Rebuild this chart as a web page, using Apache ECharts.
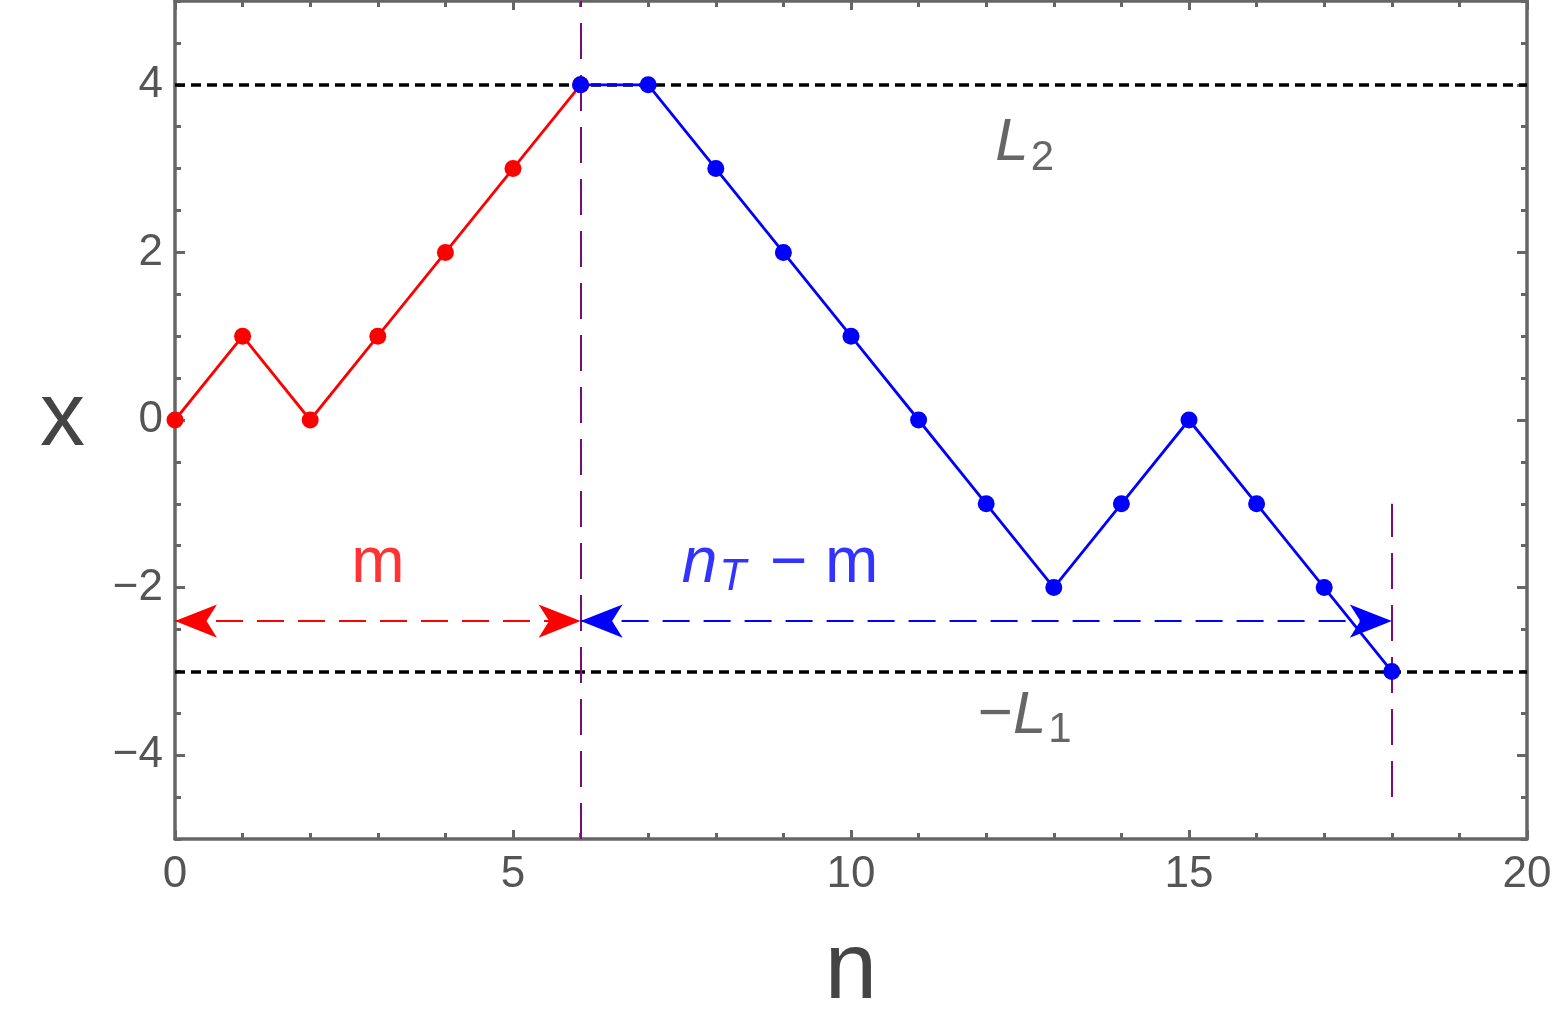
<!DOCTYPE html>
<html><head><meta charset="utf-8">
<script src="https://cdn.jsdelivr.net/npm/echarts@6/dist/echarts.min.js"></script>
<style>html,body{margin:0;padding:0;background:#fff}#c{width:1556px;height:1016px}</style>
</head><body><div id="c"></div>
<script>
// ---- data ----
const redN = [0, 1, 2, 3, 4, 5, 6];
const redX = [0, 1, 0, 1, 2, 3, 4];
const blueN = [6, 7, 8, 9, 10, 11, 12, 13, 14, 15, 16, 17, 18];
const blueX = [4, 4, 3, 2, 1, 0, -1, -2, -1, 0, -1, -2, -3];
const upperBoundary = 4;    // L2
const lowerBoundary = -3;   // -L1
const mStep = 6;            // m
const nTStep = 18;          // n_T
const arrowLevel = -2.4;
const nT_lineTop = -1;
const nT_lineBottom = -4.5;
const xTickLabels = [0, 5, 10, 15, 20];
const yTickLabels = [-4, -2, 0, 2, 4];
// annotations in data coordinates
const notes = [
  { key: 'L2', n: 12.57, x: 3.3 },
  { key: 'L1', n: 12.57, x: -3.53 },
  { key: 'm', n: 3.0, x: -1.72 },
  { key: 'nTm', n: 8.95, x: -1.72 }
];

const FONT = "'Liberation Sans', Arial, sans-serif";
const AX = '#666';
const LAB = '#555';
const RED = '#ff0000', BLUE = '#0000ff', PURPLE = '#7d0a7d';

const chart = echarts.init(document.getElementById('c'));

function xAx(pos, labels) {
  return {
    type: 'value', position: pos, min: 0, max: 20, interval: 5,
    axisLine: { show: true, onZero: false, lineStyle: { color: AX, width: 3.5 } },
    axisTick: { show: true, inside: true, length: 9, lineStyle: { color: AX, width: 3 } },
    minorTick: { show: true, splitNumber: 5, length: 6, lineStyle: { color: AX, width: 3 } },
    axisLabel: { show: labels, fontSize: 44, color: LAB, fontFamily: FONT, margin: 14 },
    splitLine: { show: false }, minorSplitLine: { show: false }
  };
}
function yMinor(pos) {
  return {
    type: 'value', position: pos, min: -5, max: 5, interval: 0.5,
    axisLine: { show: true, onZero: false, lineStyle: { color: AX, width: 3.5 } },
    axisTick: { show: true, inside: true, length: 6, lineStyle: { color: AX, width: 3 } },
    axisLabel: { show: false }, splitLine: { show: false }
  };
}
function yMajor(pos, labels) {
  return {
    type: 'value', position: pos, min: -5, max: 5, interval: 1,
    axisLine: { show: false, onZero: false },
    axisTick: { show: true, inside: true, length: 10, customValues: yTickLabels, lineStyle: { color: AX, width: 3 } },
    axisLabel: { show: labels, customValues: yTickLabels, fontSize: 44, color: LAB, fontFamily: FONT, margin: 12,
      formatter: v => (v < 0 ? '\u2212' + Math.abs(v) : String(v)) },
    splitLine: { show: false }
  };
}

const xA0 = xAx('bottom', true);
xA0.name = 'n'; xA0.nameLocation = 'middle'; xA0.nameGap = 86;
xA0.nameTextStyle = { fontSize: 94, color: '#444', fontFamily: FONT };
const yA1 = yMajor('left', true);
yA1.name = 'x'; yA1.nameLocation = 'middle'; yA1.nameRotate = 0; yA1.nameGap = 90;
yA1.nameTextStyle = { fontSize: 90, color: '#444', fontFamily: FONT };

const richCommon = {
  it: { fontFamily: FONT, fontStyle: 'italic', fontSize: 60, color: '#404040', lineHeight: 70 },
  rg: { fontFamily: FONT, fontSize: 60, color: '#404040', lineHeight: 70 },
  sub: { fontFamily: FONT, fontSize: 42, color: '#404040', lineHeight: 70, padding: [30, 0, 0, 2] },
  bit: { fontFamily: FONT, fontStyle: 'italic', fontSize: 64, color: BLUE, lineHeight: 70 },
  bsub: { fontFamily: FONT, fontStyle: 'italic', fontSize: 44, color: BLUE, lineHeight: 70, padding: [28, 6, 0, 2] },
  brg: { fontFamily: FONT, fontSize: 64, color: BLUE, lineHeight: 70 },
  rrg: { fontFamily: FONT, fontSize: 64, color: RED, lineHeight: 70 }
};
const noteText = {
  L2: '{it|L}{sub|2}',
  L1: '{rg|\u2212}{it|L}{sub|1}',
  m: '{rrg|m}',
  nTm: '{bit|n}{bsub|T}{brg| \u2212 m}'
};

const option = {
  animation: false,
  backgroundColor: '#fff',
  grid: { left: 175, right: 29, top: 1, bottom: 177, containLabel: false, outerBoundsMode: 'none' },
  xAxis: [xA0, xAx('top', false)],
  yAxis: [yMinor('left'), yA1, yMinor('right'), yMajor('right', false)],
  series: [
    {
      type: 'line', xAxisIndex: 0, yAxisIndex: 0, z: 2,
      data: [], silent: true,
      markLine: {
        silent: true, symbol: 'none', animation: false,
        label: { show: false },
        lineStyle: { color: '#000', type: [10, 6], width: 3.5 },
        data: [{ yAxis: upperBoundary }, { yAxis: lowerBoundary }]
      }
    },
    {
      type: 'line', xAxisIndex: 0, yAxisIndex: 0, z: 3,
      data: [], silent: true,
      markLine: {
        silent: true, symbol: 'none', animation: false,
        label: { show: false },
        lineStyle: { color: PURPLE, type: [36, 16], width: 2 },
        data: [
          [{ coord: [mStep, -5] }, { coord: [mStep, 5] }],
          [{ coord: [nTStep, nT_lineBottom] }, { coord: [nTStep, nT_lineTop] }]
        ]
      }
    },
    {
      type: 'line', xAxisIndex: 0, yAxisIndex: 0, z: 4,
      data: redN.map((n, i) => [n, redX[i]]),
      symbol: 'circle', symbolSize: 17, showSymbol: true,
      lineStyle: { color: RED, width: 2.8 }, itemStyle: { color: RED },
      markLine: {
        silent: true, symbol: ['arrow', 'arrow'], symbolSize: [25, 42], animation: false,
        label: { show: false },
        lineStyle: { color: RED, type: [27, 14], width: 2 },
        data: [[{ coord: [0, arrowLevel] }, { coord: [mStep, arrowLevel] }]]
      }
    },
    {
      type: 'line', xAxisIndex: 0, yAxisIndex: 0, z: 5,
      data: blueN.map((n, i) => [n, blueX[i]]),
      symbol: 'circle', symbolSize: 17, showSymbol: true,
      lineStyle: { color: BLUE, width: 2.8 }, itemStyle: { color: BLUE },
      markLine: {
        silent: true, symbol: ['arrow', 'arrow'], symbolSize: [25, 42], animation: false,
        label: { show: false },
        lineStyle: { color: BLUE, type: [27, 14], width: 2 },
        data: [[{ coord: [mStep, arrowLevel] }, { coord: [nTStep, arrowLevel] }]]
      }
    },
    {
      type: 'scatter', xAxisIndex: 0, yAxisIndex: 0, z: 6, silent: true,
      symbolSize: 1, itemStyle: { color: 'rgba(0,0,0,0)' },
      data: notes.map(d => ({ value: [d.n, d.x], name: d.key })),
      label: {
        show: true, position: 'inside', align: 'center', verticalAlign: 'middle',
        formatter: p => noteText[p.name], rich: richCommon
      }
    }
  ]
};
chart.setOption(option);
</script></body></html>
